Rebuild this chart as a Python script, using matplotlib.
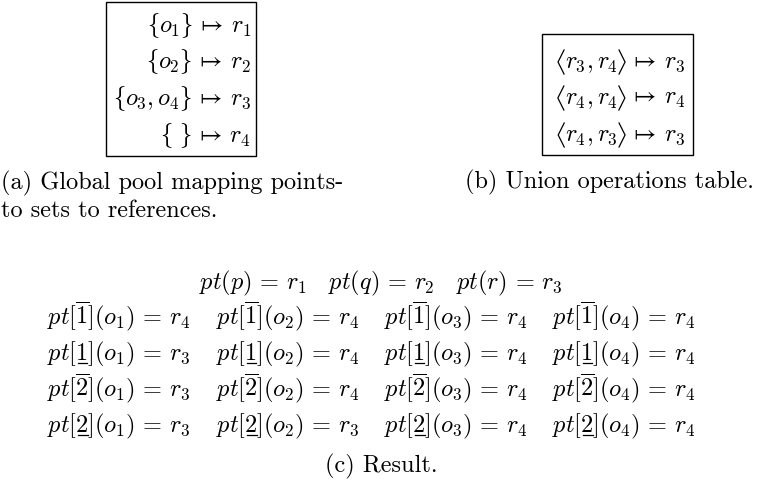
import matplotlib
matplotlib.use("Agg")
import matplotlib.pyplot as plt
from matplotlib.patches import Rectangle
from matplotlib.lines import Line2D

plt.rcParams['mathtext.fontset'] = 'cm'

W, H = 758, 482
FS = 17.5

# ---- data ----
pool_sets = [r'\lbrace o_1\rbrace', r'\lbrace o_2\rbrace', r'\lbrace o_3, o_4\rbrace', r'\lbrace\ \rbrace']
pool_refs = ['r_1', 'r_2', 'r_3', 'r_4']

union_pairs = [('r_3', 'r_4'), ('r_4', 'r_4'), ('r_4', 'r_3')]
union_results = ['r_3', 'r_4', 'r_3']

top_points = ['p', 'q', 'r']
top_refs = ['r_1', 'r_2', 'r_3']

row_index = ['1', '1', '2', '2']
row_mark = ['over', 'under', 'over', 'under']
objects = ['o_1', 'o_2', 'o_3', 'o_4']
results = [[4, 4, 4, 4],
           [3, 4, 4, 4],
           [3, 4, 4, 4],
           [3, 3, 4, 4]]

captions = ['(a) Global pool mapping points-', 'to sets to references.',
            '(b) Union operations table.', '(c) Result.']

fig = plt.figure(figsize=(W / 100, H / 100), dpi=100)
renderer = fig.canvas.get_renderer()


def fx(x):
    return x / W


def fy(y):
    return 1 - y / H


def txt(x, y, s, ha='left', va='baseline', size=FS, **kw):
    return fig.text(fx(x), fy(y), s, ha=ha, va=va, fontsize=size, **kw)


def width_of(s, size=FS):
    t = fig.text(0, 0, s, fontsize=size)
    w = t.get_window_extent(renderer).width
    t.remove()
    return w


def line(xs, ys, lw=0.9):
    fig.add_artist(Line2D([fx(v) for v in xs], [fy(v) for v in ys],
                          transform=fig.transFigure, color='black', lw=lw,
                          solid_joinstyle='miter'))


# ---- (a) global pool ----
fig.patches.append(Rectangle((fx(106), fy(156)), fx(256) - fx(106), fy(2) - fy(156),
                             transform=fig.transFigure, fill=False, lw=1.0, ec='black'))
a_rows = [32, 68, 105, 142]
for s, r, y in zip(pool_sets, pool_refs, a_rows):
    txt(251, y, rf'${s}\,\mapsto\,{r}$', ha='right')
txt(1, 189, captions[0], fontfamily='cmr10')
txt(1, 217, captions[1], fontfamily='cmr10')

# ---- (b) union table ----
fig.patches.append(Rectangle((fx(542), fy(155)), fx(693) - fx(542), fy(34) - fy(155),
                             transform=fig.transFigure, fill=False, lw=1.0, ec='black'))
b_rows = [68, 104, 141]
AW = 6          # angle bracket ink width (px)
for (u, v), r, y in zip(union_pairs, union_results, b_rows):
    xr = 685
    right = rf'$\,\mapsto\,{r}$'
    txt(xr, y, right, ha='right')
    xa = xr - width_of(right) - AW - 1
    top, mid, bot = y - 18, y - 6, y + 6
    line([xa, xa + AW, xa], [top, mid, bot])
    inner = rf'${u}, {v}$'
    txt(xa - 1, y, inner, ha='right')
    xl = xa - 2 - width_of(inner) - AW
    line([xl + AW, xl, xl + AW], [top, mid, bot])
txt(609, 188, captions[2], ha='center', fontfamily='cmr10')

# ---- (c) result ----
top_s = r'\quad '.join(rf'pt({p})\,=\,{r}' for p, r in zip(top_points, top_refs))
txt(381, 289, f'${top_s}$', ha='center')

col_x = [47, 216, 384, 552]
c_rows = [324, 360, 396, 432]
for i, (idx, mark) in enumerate(zip(row_index, row_mark)):
    y = c_rows[i]
    for j, o in enumerate(objects):
        x = col_x[j]
        res = results[i][j]
        if mark == 'over':
            s = rf'$pt[\overline{{{idx}}}]({o})\,=\,r_{res}$'
            txt(x, y, s)
        else:
            s = rf'$pt[{idx}]({o})\,=\,r_{res}$'
            txt(x, y, s)
            x0 = x + width_of(r'$pt[$')
            x1 = x + width_of(rf'$pt[{idx}$')
            line([x0 + 1, x1 - 1], [y + 3, y + 3])

txt(381, 472, captions[3], ha='center', fontfamily='cmr10')

fig.savefig('out.png', dpi=100)
